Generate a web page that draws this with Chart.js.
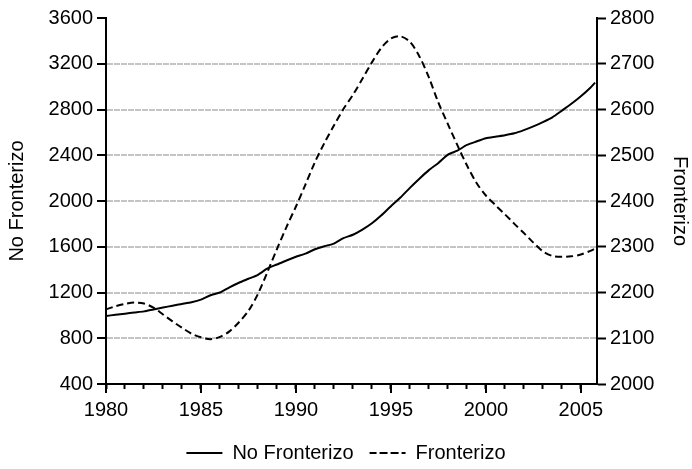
<!DOCTYPE html>
<html>
<head>
<meta charset="utf-8">
<script src="https://cdn.jsdelivr.net/npm/chart.js@4/dist/chart.umd.min.js"></script>
<style>
  html, body { margin: 0; padding: 0; background: #fff; }
</style>
</head>
<body>
<canvas id="myChart" width="692" height="469"></canvas>
<script>
// half-year observations, last one is 2005Q4
const periods = [
    1980, 1980.5, 1981, 1981.5, 1982, 1982.5, 1983, 1983.5, 1984, 1984.5,
    1985, 1985.5, 1986, 1986.5, 1987, 1987.5, 1988, 1988.5, 1989, 1989.5,
    1990, 1990.5, 1991, 1991.5, 1992, 1992.5, 1993, 1993.5, 1994, 1994.5,
    1995, 1995.5, 1996, 1996.5, 1997, 1997.5, 1998, 1998.5, 1999, 1999.5,
    2000, 2000.5, 2001, 2001.5, 2002, 2002.5, 2003, 2003.5, 2004, 2004.5,
    2005, 2005.5, 2005.75
];

const noFronterizo = [
    995, 1005, 1015, 1025, 1035, 1052, 1068, 1085, 1100, 1115,
    1138, 1176, 1200, 1245, 1285, 1320, 1355, 1410, 1445, 1480,
    1512, 1540, 1578, 1605, 1628, 1675, 1705, 1750, 1805, 1875,
    1955, 2030, 2115, 2195, 2270, 2333, 2405, 2440, 2490, 2520,
    2548, 2562, 2575, 2592, 2620, 2652, 2690, 2732, 2790, 2850,
    2915, 2990, 3035
];

const fronterizo = [
    2163, 2170, 2175, 2178, 2176, 2167, 2152, 2137, 2123, 2110,
    2102, 2098, 2103, 2115, 2135, 2160, 2197, 2245, 2295, 2343,
    2388, 2436, 2485, 2527, 2565, 2601, 2632, 2667, 2703, 2735,
    2755, 2760, 2748, 2716, 2670, 2615, 2568, 2522, 2478, 2440,
    2412, 2391, 2371, 2350, 2330, 2309, 2290, 2280, 2278, 2279,
    2283, 2291, 2296
];

const leftTicks = [400, 800, 1200, 1600, 2000, 2400, 2800, 3200, 3600];
const rightTicks = [2000, 2100, 2200, 2300, 2400, 2500, 2600, 2700, 2800];
const yearLabels = [1980, 1985, 1990, 1995, 2000, 2005];

const font = 'Liberation Sans, Arial, sans-serif';

// longer tick marks for the labelled years
const majorTicks = {
    id: 'majorTicks',
    afterDraw(chart) {
        const x = chart.scales.x;
        const c = chart.ctx;
        c.save();
        c.strokeStyle = '#000';
        c.lineWidth = 2;
        yearLabels.forEach(function(yr) {
            const px = Math.round(x.getPixelForValue(yr));
            c.beginPath();
            c.moveTo(px, x.top);
            c.lineTo(px, x.top + 9);
            c.stroke();
        });
        c.restore();
    }
};

const plain = function(v) { return String(v); };

const ctx = document.getElementById('myChart').getContext('2d');
const myChart = new Chart(ctx, {
    type: 'line',
    data: {
        datasets: [{
            label: 'No Fronterizo',
            data: periods.map((p, i) => ({x: p, y: noFronterizo[i]})),
            yAxisID: 'y',
            borderColor: '#000',
            backgroundColor: '#000',
            borderWidth: 2,
            pointRadius: 0,
            tension: 0.2
        }, {
            label: 'Fronterizo',
            data: periods.map((p, i) => ({x: p, y: fronterizo[i]})),
            yAxisID: 'y1',
            borderColor: '#000',
            backgroundColor: '#000',
            borderWidth: 2,
            borderDash: [7, 4],
            pointRadius: 0,
            tension: 0.3
        }]
    },
    options: {
        responsive: false,
        animation: false,
        devicePixelRatio: 1,
        layout: {
            padding: {top: 18, bottom: -4, left: 0, right: 0}
        },
        scales: {
            x: {
                type: 'linear',
                min: 1980,
                max: 2005.85,
                afterFit: function(s) { s.height = 43; },
                grid: {
                    drawOnChartArea: false,
                    tickLength: 5,
                    tickWidth: 2,
                    tickColor: '#000'
                },
                border: { color: '#000', width: 2 },
                ticks: {
                    stepSize: 1,
                    includeBounds: false,
                    autoSkip: false,
                    maxRotation: 0,
                    padding: 9,
                    color: '#000',
                    font: { family: font, size: 20 },
                    callback: function(v) {
                        return yearLabels.includes(v) ? String(v) : '';
                    }
                }
            },
            y: {
                position: 'left',
                min: 400,
                max: 3600,
                afterFit: function(s) { s.width = 106; },
                afterBuildTicks: function(s) { s.ticks = leftTicks.map(v => ({value: v})); },
                title: {
                    display: true,
                    text: 'No Fronterizo',
                    color: '#000',
                    font: { family: font, size: 20 },
                    padding: {top: 5, bottom: 0}
                },
                grid: {
                    color: function(c) {
                        return (c.tick && (c.tick.value === 400 || c.tick.value === 3600)) ? 'rgba(0,0,0,0)' : '#c4c4c4';
                    },
                    lineWidth: 2,
                    tickLength: 9,
                    tickWidth: 2,
                    tickColor: '#000'
                },
                border: { color: '#000', width: 2, dash: [6, 1] },
                ticks: {
                    padding: 4,
                    color: '#000',
                    font: { family: font, size: 20 },
                    callback: plain
                }
            },
            y1: {
                position: 'right',
                min: 2000,
                max: 2800,
                afterFit: function(s) { s.width = 95; },
                afterBuildTicks: function(s) { s.ticks = rightTicks.map(v => ({value: v})); },
                title: {
                    display: true,
                    text: 'Fronterizo',
                    color: '#000',
                    font: { family: font, size: 20 },
                    padding: {top: 0, bottom: 0}
                },
                grid: {
                    drawOnChartArea: false,
                    tickLength: 9,
                    tickWidth: 2,
                    tickColor: '#000'
                },
                border: { color: '#000', width: 2 },
                ticks: {
                    padding: 4,
                    color: '#000',
                    font: { family: font, size: 20 },
                    callback: plain
                }
            }
        },
        plugins: {
            legend: {
                position: 'bottom',
                labels: {
                    boxWidth: 36,
                    boxHeight: 0,
                    padding: 16,
                    color: '#000',
                    font: { family: font, size: 20 }
                }
            },
            tooltip: { enabled: false }
        }
    },
    plugins: [majorTicks]
});
</script>
</body>
</html>
